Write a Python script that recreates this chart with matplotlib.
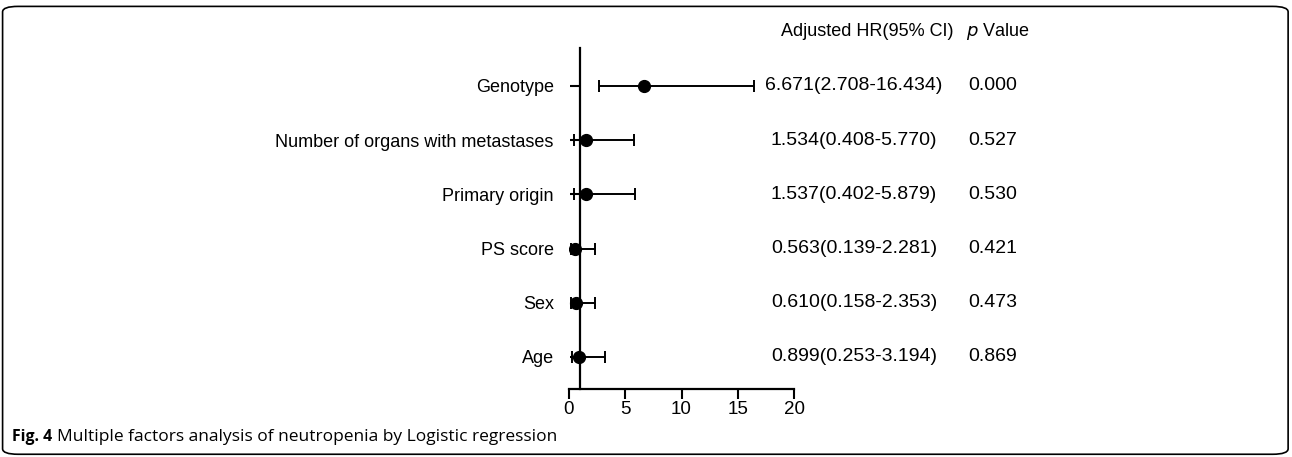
import matplotlib.pyplot as plt
from matplotlib.patches import FancyBboxPatch

# data
factors = ['Genotype', 'Number of organs with metastases', 'Primary origin',
           'PS score', 'Sex', 'Age']
hr = [6.671, 1.534, 1.537, 0.563, 0.610, 0.899]
ci_low = [2.708, 0.408, 0.402, 0.139, 0.158, 0.253]
ci_high = [16.434, 5.770, 5.879, 2.281, 2.353, 3.194]
p_vals = ['0.000', '0.527', '0.530', '0.421', '0.473', '0.869']
x_ticks = [0, 5, 10, 15, 20]

plt.rcParams['font.family'] = ['Liberation Sans', 'DejaVu Sans']
fs = 14

fig = plt.figure(figsize=(12.92, 4.57), dpi=100)
ax = fig.add_axes([0.4404, 0.149, 0.1742, 0.746])

n = len(factors)
ypos = list(range(n, 0, -1))
err = [[h - l for h, l in zip(hr, ci_low)], [u - h for h, u in zip(hr, ci_high)]]
ax.errorbar(hr, ypos, xerr=err, fmt='o', color='black', ms=8.5,
            capsize=4.5, elinewidth=1.4, capthick=1.4)

ax.set_xlim(0, 20)
ax.set_ylim(0.41, n + 0.7)
ax.set_xticks(x_ticks)
ax.set_yticks(ypos)
ax.set_yticklabels(factors)
ax.tick_params(axis='x', labelsize=13.5, length=7, width=1.5, direction='out', pad=2)
ax.tick_params(axis='y', labelsize=13, length=7, width=1.5, pad=12)

for s in ['top', 'right']:
    ax.spines[s].set_visible(False)
ax.spines['left'].set_position(('data', 1))
ax.spines['left'].set_linewidth(1.6)
ax.spines['bottom'].set_linewidth(1.6)

# table columns
fig.text(0.671, 0.932, 'Adjusted HR(95% CI)', ha='center', va='center', fontsize=13)
fig.text(0.772, 0.932, r'$\it{p}$ Value', ha='center', va='center', fontsize=13)
for y, h, l, u, p in zip(ypos, hr, ci_low, ci_high, p_vals):
    yf = ax.transData.transform((0, y))[1]
    yf = fig.transFigure.inverted().transform((0, yf))[1]
    fig.text(0.661, yf, f'{h:.3f}({l:.3f}-{u:.3f})', ha='center', va='center', fontsize=fs)
    fig.text(0.768, yf, p, ha='center', va='center', fontsize=fs)

# caption
fig.text(0.009, 0.043, 'Fig. 4', fontsize=11.4, fontweight='bold',
         family='Open Sans', va='center')
fig.text(0.044, 0.043, 'Multiple factors analysis of neutropenia by Logistic regression',
         fontsize=12.5, family='Open Sans', va='center')

frame = FancyBboxPatch((0.002, 0.006), 0.995, 0.98, boxstyle='round,pad=0,rounding_size=0.012',
                       transform=fig.transFigure, fill=False, ec='black', lw=1.2)
fig.patches.append(frame)

fig.savefig('out.png', dpi=100)
